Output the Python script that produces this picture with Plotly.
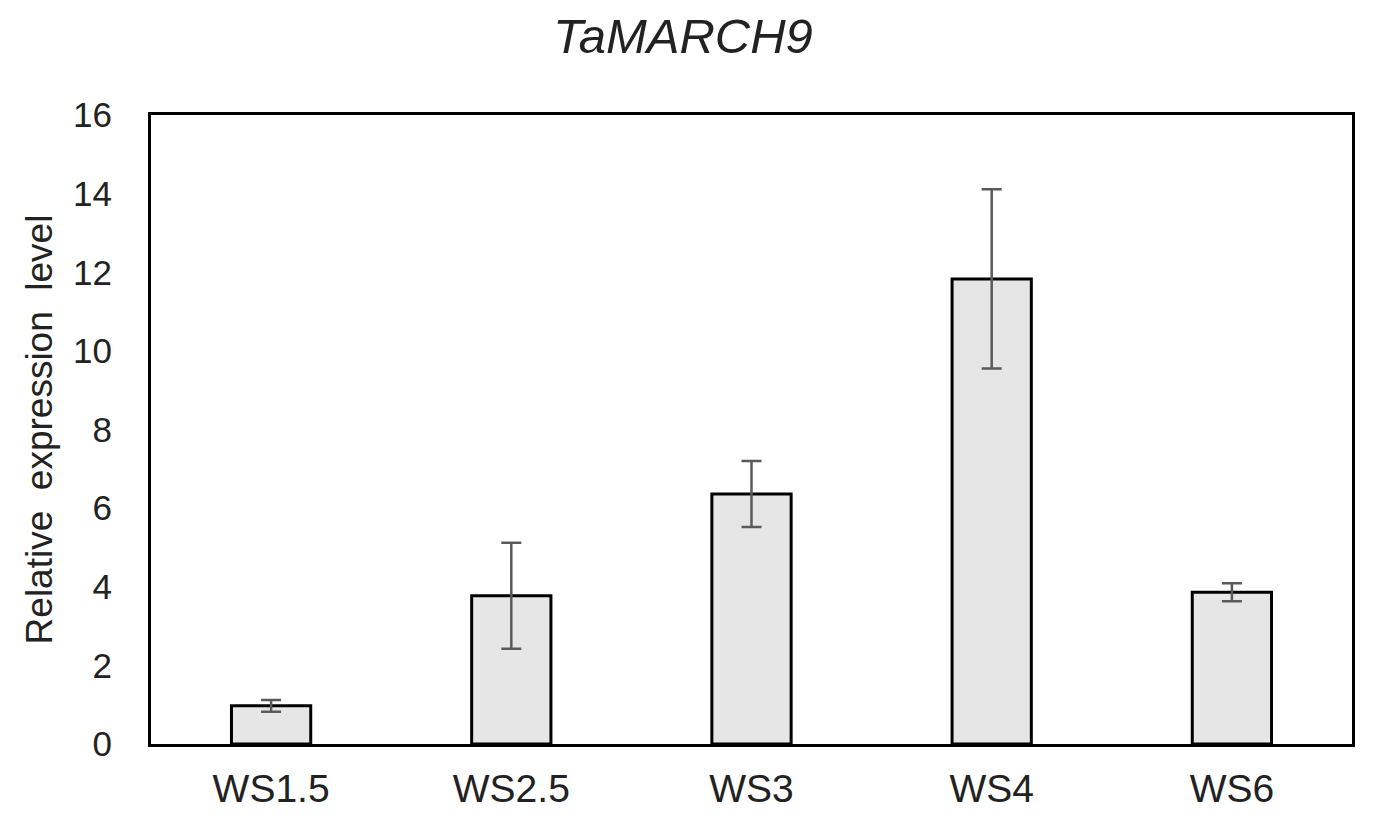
import plotly.graph_objects as go

categories = ["WS1.5", "WS2.5", "WS3", "WS4", "WS6"]
values = [0.97, 3.77, 6.36, 11.83, 3.86]
errors = [0.15, 1.35, 0.84, 2.28, 0.23]
y_ticks = [0, 2, 4, 6, 8, 10, 12, 14, 16]

FONT = "Liberation Sans, Arial, sans-serif"

fig = go.Figure()
fig.add_trace(go.Bar(
    x=categories,
    y=values,
    marker=dict(color="#e6e6e6", line=dict(color="black", width=3)),
    error_y=dict(type="data", array=errors, visible=True,
                 color="#5a5a5a", thickness=2.5, width=10),
    width=0.33,
))

fig.update_layout(
    width=1380, height=821,
    margin=dict(l=151, r=28, t=115, b=77),
    plot_bgcolor="white", paper_bgcolor="white",
    showlegend=False,
    font=dict(family=FONT, color="#222"),
    title=dict(text="<i>TaMARCH9</i>", xref="container", x=0.495, xanchor="center",
               yref="container", y=0.956, yanchor="middle",
               font=dict(family=FONT, size=49, color="#222")),
)
fig.update_xaxes(
    automargin=False,
    showline=True, linecolor="black", linewidth=3, mirror=True,
    showgrid=False, ticks="", tickfont=dict(size=39, family=FONT, color="#222"),
    ticklabelstandoff=8,
)
fig.update_yaxes(
    automargin=False,
    range=[0, 16], tickvals=y_ticks,
    showline=True, linecolor="black", linewidth=3, mirror=True,
    showgrid=False, zeroline=False, ticks="",
    tickfont=dict(size=35, family=FONT, color="#222"),
    ticklabelstandoff=29,
    title=dict(text="Relative\u00a0 expression\u00a0 level",
               font=dict(size=37, family=FONT, color="#222"), standoff=10),
)

fig.write_html("out.html")
